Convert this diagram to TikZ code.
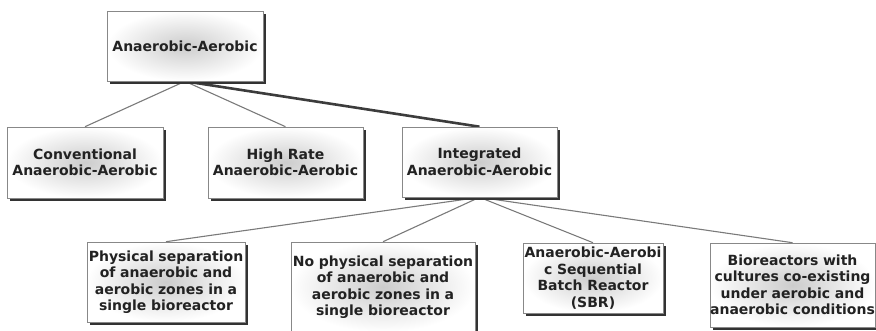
\documentclass[tikz,border=0pt]{standalone}
\usepackage{fontspec}
\setmainfont{DejaVu Sans}
\usetikzlibrary{shadows,backgrounds}
\definecolor{txt}{HTML}{222222}
\definecolor{edge}{HTML}{888888}
\definecolor{link}{HTML}{7A7A7A}
\definecolor{thick}{HTML}{3C3C3C}
\tikzset{
  box/.style={rectangle, draw=edge, line width=0.6pt, inner color=black!20, outer color=white,
    drop shadow={shadow xshift=2.8pt, shadow yshift=-2.8pt, fill=black!80, opacity=1},
    align=center, text=txt, font=\fontsize{14}{16.5}\selectfont\bfseries, inner xsep=0pt, inner ysep=1pt},
  conn/.style={draw=link, line width=1.1pt},
  mainconn/.style={draw=thick, line width=2.6pt}
}
\begin{document}
\begin{tikzpicture}[x=1pt,y=-1pt]
\useasboundingbox (0,0) rectangle (876,330);
\node[box, text width=156pt, minimum height=70pt] (top) at (185,46) {Anaerobic-Aerobic};
\node[box, text width=156pt, minimum height=71pt] (conv) at (85,162.5) {Conventional\\Anaerobic-Aerobic};
\node[box, text width=155pt, minimum height=71pt] (high) at (285.5,162.5) {High Rate\\Anaerobic-Aerobic};
\node[box, text width=155pt, minimum height=70pt] (integ) at (479.5,162) {Integrated\\Anaerobic-Aerobic};
\node[box, text width=158pt, minimum height=80pt] (phys) at (166,282) {Physical separation\\of anaerobic and\\aerobic zones in a\\single bioreactor};
\node[box, text width=184pt, minimum height=90pt] (nophys) at (383,287) {No physical separation\\of anaerobic and\\aerobic zones in a\\single bioreactor};
\node[box, text width=140pt, minimum height=70pt] (sbr) at (593,278) {Anaerobic-Aerobi\\c Sequential\\Batch Reactor\\(SBR)};
\node[box, text width=165pt, minimum height=84pt] (bio) at (792.5,285) {Bioreactors with\\cultures co-existing\\under aerobic and\\\makebox[0pt]{anaerobic conditions}};
\begin{scope}[on background layer]
\draw[conn] (top.south) -- (conv.north);
\draw[conn] (top.south) -- (high.north);
\draw[mainconn] (top.south) -- (integ.north);
\draw[conn] (integ.south) -- (phys.north);
\draw[conn] (integ.south) -- (nophys.north);
\draw[conn] (integ.south) -- (sbr.north);
\draw[conn] (integ.south) -- (bio.north);
\end{scope}
\end{tikzpicture}
\end{document}
